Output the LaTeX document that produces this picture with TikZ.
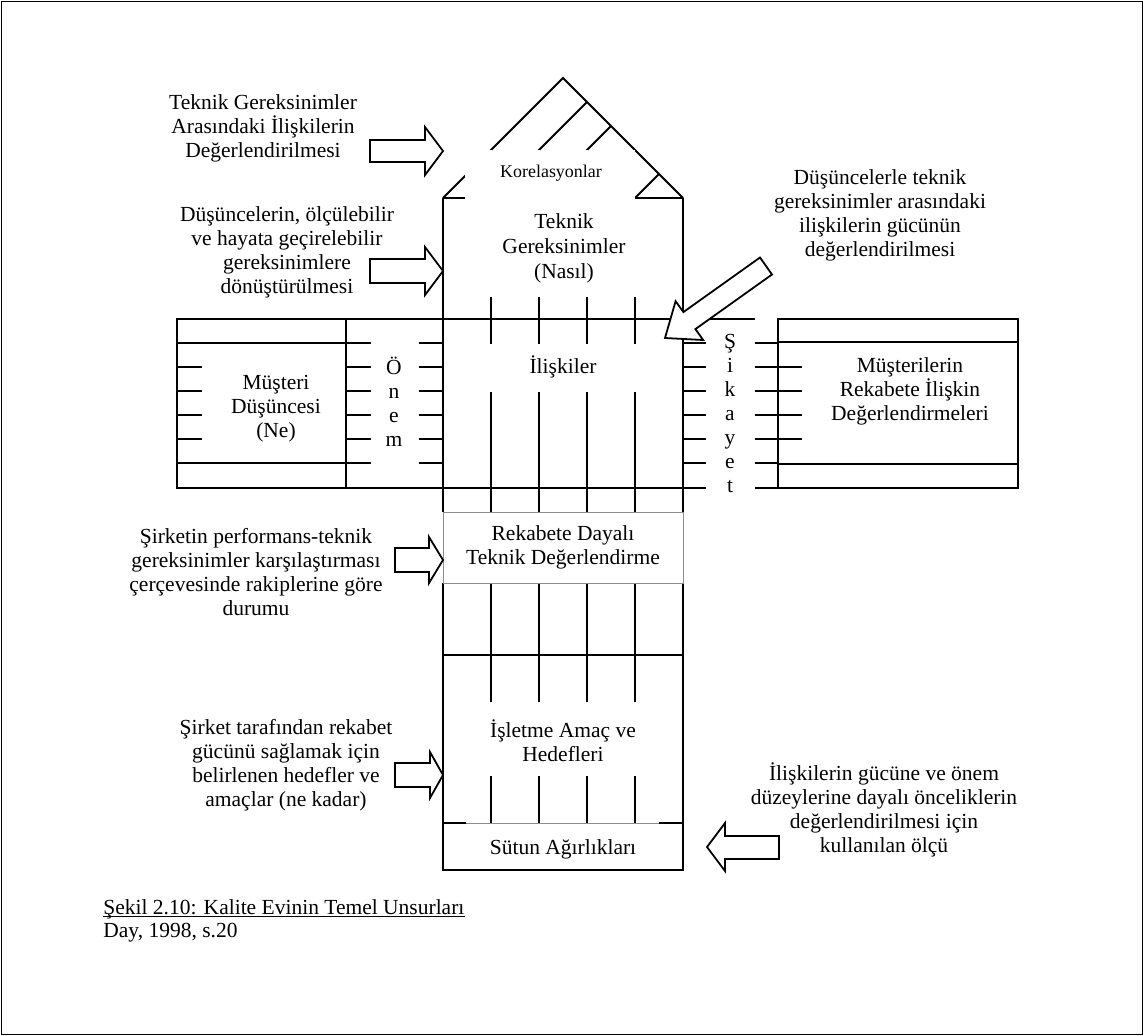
\documentclass[tikz,border=0pt]{standalone}
\usepackage{fontspec}
\setmainfont{Liberation Serif}
\begin{document}
\begin{tikzpicture}[x=0.558pt,y=-0.558pt,
  ln/.style={line width=1pt},
  thinln/.style={line width=0.4pt, draw=black!45},
  txt/.style={align=center, inner sep=0pt, font=\fontsize{12}{13.4}\selectfont},
  sml/.style={inner sep=0pt, font=\fontsize{10}{12}\selectfont},
  blk/.style={draw, line width=1pt, fill=white, line join=miter},
  wbox/.style={fill=white, draw=none}]
\useasboundingbox (0,0) rectangle (1144,1036);
\draw[line width=0.8pt] (1.5,1.5) rectangle (1142.5,1034.5);

% ---------- roof ----------
\coordinate (apex) at (563,78);
\coordinate (rl) at (443,198);
\coordinate (rr) at (683,198);
\draw[ln] (rl) -- (apex) -- (rr);
\draw[ln] (rl) -- (rr);
\foreach \b/\t in {491/96,539/72,587/48,635/24} \draw[ln] (\b,198) -- ++(\t,-\t);
\fill[white] (465,150) rectangle (635,199.8);
\node[sml] (kor) at (551,173) {Korelasyonlar};

% ---------- main column ----------
\draw[ln] (443,198) -- (443,512);
\draw[ln] (683,198) -- (683,512);
\draw[ln] (443,583) -- (443,870) -- (683,870) -- (683,583);
\foreach \x in {491,539,587,635} {
  \draw[ln] (\x,297) -- (\x,512);
  \draw[ln] (\x,583) -- (\x,702);
  \draw[ln] (\x,776) -- (\x,823);
}
\draw[ln] (443,655) -- (683,655);
\draw[ln] (443,823) -- (466,823);
\draw[ln] (659,823) -- (683,823);
\draw[thinln] (466,823) -- (659,823);
\draw[thinln] (443,512) rectangle (683,583);

% ---------- left room ----------
\draw[ln] (177,319) rectangle (346,488);
\draw[ln] (177,343) -- (346,343);
\draw[ln] (177,463) -- (346,463);
\foreach \y in {367,391,415,439} \draw[ln] (177,\y) -- (202,\y);

% ---------- Onem column ----------
\draw[ln] (346,319) -- (755,319);
\draw[ln] (346,488) -- (683,488);
\foreach \y in {343,367,391,415,439,463} \draw[ln] (346,\y) -- (443,\y);

% ---------- Sikayet column ----------
\foreach \y in {343,367,391,415,439,463,488} \draw[ln] (683,\y) -- (778,\y);

% ---------- right room ----------
\draw[ln] (778,319) rectangle (1018,488);
\draw[ln] (778,342) -- (1018,342);
\draw[ln] (778,464) -- (1018,464);
\foreach \y in {367,391,415,439} \draw[ln] (778,\y) -- (802,\y);

% ---------- white boxes ----------
\fill[wbox] (444.8,344) rectangle (681.2,392);
\fill[wbox] (371,341) rectangle (419,486.3);
\fill[wbox] (706,321) rectangle (755,500);

% ---------- block arrows ----------
\draw[blk] (370,140) -- (425,140) -- (425,127) -- (443,151) -- (425,175) -- (425,162) -- (370,162) -- cycle;
\draw[blk] (370,259) -- (425,259) -- (425,247) -- (443,271) -- (425,295) -- (425,283) -- (370,283) -- cycle;
\draw[blk] (395,548) -- (429,548) -- (429,537) -- (443,560) -- (429,583) -- (429,572) -- (395,572) -- cycle;
\draw[blk] (395,763) -- (430,763) -- (430,752) -- (443,775) -- (430,798) -- (430,787) -- (395,787) -- cycle;
\draw[blk] (779,836) -- (725,836) -- (725,823) -- (707,847) -- (725,871) -- (725,859) -- (779,859) -- cycle;
\draw[blk] (760,257.5) -- (772,274.5) -- (695.4,329.1) -- (703.2,340) -- (665,338) -- (675.6,301.2) -- (683.4,312.1) -- cycle;

% ---------- texts ----------
\node[txt] (t1) at (263,128) {Teknik Gereksinimler\\Arasındaki İlişkilerin\\Değerlendirilmesi};
\node[txt] (t2) at (287,252) {Düşüncelerin, ölçülebilir\\ve hayata geçirelebilir\\gereksinimlere\\dönüştürülmesi};
\node[txt] (t3) at (880,215) {Düşüncelerle teknik\\gereksinimler arasındaki\\ilişkilerin gücünün\\değerlendirilmesi};
\node[txt, font=\fontsize{12}{14}\selectfont] (tk) at (564,248) {Teknik\\Gereksinimler\\(Nasıl)};
\node[txt] (ne) at (276,409) {Müşteri\\Düşüncesi\\(Ne)};
\node[txt] (il) at (563,367) {İlişkiler};
\node[txt] (rk) at (910,391) {Müşterilerin\\Rekabete İlişkin\\Değerlendirmeleri};
\node[txt] (rd) at (563,547) {Rekabete Dayalı\\Teknik Değerlendirme};
\node[txt] (t9) at (256,572) {Şirketin performans-teknik\\gereksinimler karşılaştırması\\çerçevesinde rakiplerine göre\\durumu};
\node[txt] (ia) at (563,741) {İşletme Amaç ve\\Hedefleri};
\node[txt] (t11) at (286,765) {Şirket tarafından rekabet\\gücünü sağlamak için\\belirlenen hedefler ve\\amaçlar (ne kadar)};
\node[txt] (sa) at (563,849) {Sütun Ağırlıkları};
\node[txt] (t13) at (884,810) {İlişkilerin gücüne ve önem\\düzeylerine dayalı önceliklerin\\değerlendirilmesi için\\kullanılan ölçü};
\foreach \c [count=\i from 0] in {Ö,n,e,m} \node[txt,anchor=base] (on\i) at (394,{374+24*\i}) {\c};
\foreach \c [count=\i from 0] in {Ş,i,k,a,y,e,t} \node[txt,anchor=base] (sk\i) at (730,{348+24.1*\i}) {\c};
\node[txt,anchor=base west] (cap) at (103,914) {Şekil 2.10: Kalite Evinin Temel Unsurları};
\draw[line width=0.5pt] ([yshift=-1.6pt]cap.base west) -- ([yshift=-1.6pt]cap.base east);
\node[txt,anchor=base west] (src) at (103,937) {Day, 1998, s.20};
\end{tikzpicture}
\end{document}
